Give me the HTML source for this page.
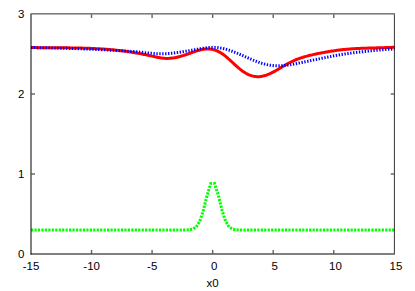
<!DOCTYPE html>
<html><head><meta charset="utf-8"><title>plot</title>
<style>
html,body{margin:0;padding:0;background:#fff;}
body{width:415px;height:291px;overflow:hidden;position:relative;font-family:"Liberation Sans",sans-serif;}
</style></head><body>
<svg width="415" height="291" viewBox="0 0 415 291" style="position:absolute;left:0;top:0">
<rect x="0" y="0" width="415" height="291" fill="#fff"/>
<path d="M31.00,47.54 L32.00,47.55 L33.00,47.57 L34.00,47.59 L35.00,47.60 L36.00,47.62 L37.00,47.63 L38.00,47.64 L39.00,47.65 L40.00,47.66 L41.00,47.67 L42.00,47.68 L43.00,47.69 L44.00,47.70 L45.00,47.71 L46.00,47.71 L47.00,47.72 L48.00,47.73 L49.00,47.73 L50.00,47.74 L51.00,47.75 L52.00,47.75 L53.00,47.76 L54.00,47.76 L55.00,47.77 L56.00,47.77 L57.00,47.78 L58.00,47.78 L59.00,47.79 L60.00,47.80 L61.00,47.80 L62.00,47.81 L63.00,47.82 L64.00,47.82 L65.00,47.83 L66.00,47.84 L67.00,47.85 L68.00,47.86 L69.00,47.87 L70.00,47.88 L71.00,47.90 L72.00,47.91 L73.00,47.93 L74.00,47.94 L75.00,47.96 L76.00,47.97 L77.00,47.99 L78.00,48.01 L79.00,48.03 L80.00,48.06 L81.00,48.08 L82.00,48.11 L83.00,48.13 L84.00,48.16 L85.00,48.19 L86.00,48.22 L87.00,48.25 L88.00,48.29 L89.00,48.32 L90.00,48.36 L91.00,48.40 L92.00,48.44 L93.00,48.49 L94.00,48.53 L95.00,48.58 L96.00,48.63 L97.00,48.68 L98.00,48.74 L99.00,48.80 L100.00,48.86 L101.00,48.92 L102.00,48.98 L103.00,49.05 L104.00,49.12 L105.00,49.19 L106.00,49.26 L107.00,49.34 L108.00,49.42 L109.00,49.50 L110.00,49.58 L111.00,49.67 L112.00,49.76 L113.00,49.86 L114.00,49.95 L115.00,50.05 L116.00,50.16 L117.00,50.26 L118.00,50.37 L119.00,50.49 L120.00,50.60 L121.00,50.72 L122.00,50.85 L123.00,50.97 L124.00,51.10 L125.00,51.24 L126.00,51.37 L127.00,51.51 L128.00,51.66 L129.00,51.80 L130.00,51.95 L131.00,52.11 L132.00,52.26 L133.00,52.42 L134.00,52.59 L135.00,52.76 L136.00,52.93 L137.00,53.10 L138.00,53.28 L139.00,53.46 L140.00,53.65 L141.00,53.83 L142.00,54.03 L143.00,54.22 L144.00,54.42 L145.00,54.62 L146.00,54.83 L147.00,55.04 L148.00,55.25 L149.00,55.47 L150.00,55.68 L151.00,55.91 L152.00,56.13 L153.00,56.36 L154.00,56.58 L155.00,56.80 L156.00,57.01 L157.00,57.21 L158.00,57.41 L159.00,57.59 L160.00,57.76 L161.00,57.91 L162.00,58.05 L163.00,58.17 L164.00,58.26 L165.00,58.34 L166.00,58.38 L167.00,58.41 L168.00,58.40 L169.00,58.37 L170.00,58.31 L171.00,58.22 L172.00,58.11 L173.00,57.98 L174.00,57.83 L175.00,57.65 L176.00,57.45 L177.00,57.24 L178.00,57.01 L179.00,56.76 L180.00,56.50 L181.00,56.22 L182.00,55.93 L183.00,55.62 L184.00,55.31 L185.00,54.99 L186.00,54.65 L187.00,54.31 L188.00,53.96 L189.00,53.61 L190.00,53.25 L191.00,52.89 L192.00,52.53 L193.00,52.17 L194.00,51.82 L195.00,51.47 L196.00,51.13 L197.00,50.81 L198.00,50.50 L199.00,50.21 L200.00,49.95 L201.00,49.71 L202.00,49.49 L203.00,49.31 L204.00,49.16 L205.00,49.04 L206.00,48.96 L207.00,48.92 L208.00,48.93 L209.00,48.97 L210.00,49.06 L211.00,49.19 L212.00,49.37 L213.00,49.58 L214.00,49.85 L215.00,50.16 L216.00,50.51 L217.00,50.91 L218.00,51.36 L219.00,51.85 L220.00,52.40 L221.00,52.99 L222.00,53.63 L223.00,54.32 L224.00,55.06 L225.00,55.83 L226.00,56.64 L227.00,57.49 L228.00,58.36 L229.00,59.25 L230.00,60.16 L231.00,61.08 L232.00,62.00 L233.00,62.94 L234.00,63.87 L235.00,64.79 L236.00,65.70 L237.00,66.60 L238.00,67.48 L239.00,68.33 L240.00,69.15 L241.00,69.94 L242.00,70.70 L243.00,71.41 L244.00,72.09 L245.00,72.71 L246.00,73.30 L247.00,73.84 L248.00,74.34 L249.00,74.79 L250.00,75.19 L251.00,75.55 L252.00,75.86 L253.00,76.12 L254.00,76.33 L255.00,76.49 L256.00,76.61 L257.00,76.67 L258.00,76.69 L259.00,76.66 L260.00,76.58 L261.00,76.45 L262.00,76.29 L263.00,76.08 L264.00,75.83 L265.00,75.54 L266.00,75.22 L267.00,74.86 L268.00,74.47 L269.00,74.06 L270.00,73.61 L271.00,73.15 L272.00,72.66 L273.00,72.15 L274.00,71.62 L275.00,71.08 L276.00,70.52 L277.00,69.95 L278.00,69.37 L279.00,68.79 L280.00,68.19 L281.00,67.60 L282.00,67.01 L283.00,66.42 L284.00,65.83 L285.00,65.25 L286.00,64.67 L287.00,64.11 L288.00,63.56 L289.00,63.02 L290.00,62.50 L291.00,62.00 L292.00,61.51 L293.00,61.05 L294.00,60.60 L295.00,60.17 L296.00,59.75 L297.00,59.36 L298.00,58.97 L299.00,58.60 L300.00,58.25 L301.00,57.90 L302.00,57.57 L303.00,57.26 L304.00,56.95 L305.00,56.66 L306.00,56.37 L307.00,56.10 L308.00,55.83 L309.00,55.58 L310.00,55.33 L311.00,55.09 L312.00,54.86 L313.00,54.63 L314.00,54.41 L315.00,54.20 L316.00,53.99 L317.00,53.78 L318.00,53.58 L319.00,53.39 L320.00,53.19 L321.00,53.00 L322.00,52.81 L323.00,52.62 L324.00,52.43 L325.00,52.25 L326.00,52.07 L327.00,51.90 L328.00,51.72 L329.00,51.55 L330.00,51.39 L331.00,51.22 L332.00,51.06 L333.00,50.91 L334.00,50.76 L335.00,50.61 L336.00,50.47 L337.00,50.33 L338.00,50.20 L339.00,50.07 L340.00,49.95 L341.00,49.83 L342.00,49.72 L343.00,49.61 L344.00,49.51 L345.00,49.41 L346.00,49.32 L347.00,49.23 L348.00,49.14 L349.00,49.06 L350.00,48.99 L351.00,48.91 L352.00,48.84 L353.00,48.78 L354.00,48.71 L355.00,48.65 L356.00,48.60 L357.00,48.54 L358.00,48.49 L359.00,48.45 L360.00,48.40 L361.00,48.36 L362.00,48.31 L363.00,48.27 L364.00,48.24 L365.00,48.20 L366.00,48.17 L367.00,48.13 L368.00,48.10 L369.00,48.07 L370.00,48.04 L371.00,48.01 L372.00,47.99 L373.00,47.96 L374.00,47.93 L375.00,47.90 L376.00,47.88 L377.00,47.85 L378.00,47.82 L379.00,47.80 L380.00,47.77 L381.00,47.74 L382.00,47.71 L383.00,47.68 L384.00,47.65 L385.00,47.62 L386.00,47.58 L387.00,47.55 L388.00,47.51 L389.00,47.47 L390.00,47.43 L391.00,47.39 L392.00,47.34 L393.00,47.30 L394.00,47.25 L394.40,47.23" fill="none" stroke="#ff0000" stroke-width="3" stroke-linejoin="round"/>
<path d="M31.00,230.00 L34.67,230.00 L38.34,230.00 L42.01,230.00 L45.68,230.00 L49.35,230.00 L53.02,230.00 L56.69,230.00 L60.37,230.00 L64.04,230.00 L67.71,230.00 L71.38,230.00 L75.05,230.00 L78.72,230.00 L82.39,230.00 L86.06,230.00 L89.73,230.00 L93.40,230.00 L97.07,230.00 L100.74,230.00 L104.41,230.00 L108.08,230.00 L111.76,230.00 L115.43,230.00 L119.10,230.00 L122.77,230.00 L126.44,230.00 L130.11,230.00 L133.78,230.00 L137.45,230.00 L141.12,230.00 L144.79,230.00 L148.46,230.00 L152.13,230.00 L155.80,230.00 L159.47,230.00 L163.15,230.00 L166.82,230.00 L170.49,230.00 L174.16,230.00 L177.83,230.00 L181.50,230.00 L185.17,229.98 L188.84,229.86 L192.51,229.26 L196.18,227.05 L199.85,221.12 L203.52,209.71 L207.19,194.79 L210.86,183.62 L214.54,183.62 L218.21,194.79 L221.88,209.71 L225.55,221.12 L229.22,227.05 L232.89,229.26 L236.56,229.86 L240.23,229.98 L243.90,230.00 L247.57,230.00 L251.24,230.00 L254.91,230.00 L258.58,230.00 L262.25,230.00 L265.93,230.00 L269.60,230.00 L273.27,230.00 L276.94,230.00 L280.61,230.00 L284.28,230.00 L287.95,230.00 L291.62,230.00 L295.29,230.00 L298.96,230.00 L302.63,230.00 L306.30,230.00 L309.97,230.00 L313.64,230.00 L317.32,230.00 L320.99,230.00 L324.66,230.00 L328.33,230.00 L332.00,230.00 L335.67,230.00 L339.34,230.00 L343.01,230.00 L346.68,230.00 L350.35,230.00 L354.02,230.00 L357.69,230.00 L361.36,230.00 L365.03,230.00 L368.71,230.00 L372.38,230.00 L376.05,230.00 L379.72,230.00 L383.39,230.00 L387.06,230.00 L390.73,230.00 L394.40,230.00" fill="none" stroke="#00ff00" stroke-width="3" stroke-dasharray="2.2 1.257" stroke-dashoffset="0"/>
<path d="M31.00,47.56 L32.00,47.57 L33.00,47.58 L34.00,47.59 L35.00,47.61 L36.00,47.62 L37.00,47.63 L38.00,47.65 L39.00,47.66 L40.00,47.68 L41.00,47.69 L42.00,47.71 L43.00,47.73 L44.00,47.74 L45.00,47.76 L46.00,47.78 L47.00,47.80 L48.00,47.82 L49.00,47.84 L50.00,47.86 L51.00,47.88 L52.00,47.91 L53.00,47.93 L54.00,47.95 L55.00,47.98 L56.00,48.00 L57.00,48.03 L58.00,48.05 L59.00,48.08 L60.00,48.10 L61.00,48.13 L62.00,48.16 L63.00,48.19 L64.00,48.22 L65.00,48.25 L66.00,48.28 L67.00,48.31 L68.00,48.34 L69.00,48.37 L70.00,48.40 L71.00,48.43 L72.00,48.47 L73.00,48.50 L74.00,48.53 L75.00,48.57 L76.00,48.61 L77.00,48.64 L78.00,48.68 L79.00,48.72 L80.00,48.75 L81.00,48.79 L82.00,48.83 L83.00,48.87 L84.00,48.91 L85.00,48.95 L86.00,48.99 L87.00,49.03 L88.00,49.07 L89.00,49.12 L90.00,49.16 L91.00,49.20 L92.00,49.25 L93.00,49.29 L94.00,49.34 L95.00,49.38 L96.00,49.43 L97.00,49.47 L98.00,49.52 L99.00,49.57 L100.00,49.62 L101.00,49.67 L102.00,49.72 L103.00,49.77 L104.00,49.82 L105.00,49.87 L106.00,49.92 L107.00,49.97 L108.00,50.02 L109.00,50.07 L110.00,50.13 L111.00,50.18 L112.00,50.24 L113.00,50.29 L114.00,50.35 L115.00,50.40 L116.00,50.46 L117.00,50.52 L118.00,50.57 L119.00,50.63 L120.00,50.69 L121.00,50.75 L122.00,50.81 L123.00,50.87 L124.00,50.93 L125.00,50.99 L126.00,51.06 L127.00,51.12 L128.00,51.19 L129.00,51.26 L130.00,51.32 L131.00,51.40 L132.00,51.47 L133.00,51.55 L134.00,51.62 L135.00,51.70 L136.00,51.79 L137.00,51.87 L138.00,51.96 L139.00,52.05 L140.00,52.15 L141.00,52.25 L142.00,52.35 L143.00,52.45 L144.00,52.55 L145.00,52.66 L146.00,52.76 L147.00,52.86 L148.00,52.96 L149.00,53.06 L150.00,53.16 L151.00,53.25 L152.00,53.33 L153.00,53.41 L154.00,53.48 L155.00,53.55 L156.00,53.61 L157.00,53.66 L158.00,53.70 L159.00,53.73 L160.00,53.75 L161.00,53.76 L162.00,53.75 L163.00,53.74 L164.00,53.72 L165.00,53.68 L166.00,53.64 L167.00,53.58 L168.00,53.52 L169.00,53.45 L170.00,53.37 L171.00,53.28 L172.00,53.19 L173.00,53.08 L174.00,52.97 L175.00,52.86 L176.00,52.73 L177.00,52.60 L178.00,52.47 L179.00,52.33 L180.00,52.18 L181.00,52.04 L182.00,51.88 L183.00,51.72 L184.00,51.56 L185.00,51.40 L186.00,51.23 L187.00,51.06 L188.00,50.89 L189.00,50.72 L190.00,50.54 L191.00,50.36 L192.00,50.19 L193.00,50.01 L194.00,49.83 L195.00,49.65 L196.00,49.48 L197.00,49.30 L198.00,49.13 L199.00,48.95 L200.00,48.78 L201.00,48.62 L202.00,48.45 L203.00,48.29 L204.00,48.14 L205.00,48.00 L206.00,47.87 L207.00,47.75 L208.00,47.64 L209.00,47.55 L210.00,47.47 L211.00,47.42 L212.00,47.38 L213.00,47.37 L214.00,47.38 L215.00,47.41 L216.00,47.47 L217.00,47.55 L218.00,47.66 L219.00,47.79 L220.00,47.95 L221.00,48.12 L222.00,48.32 L223.00,48.53 L224.00,48.76 L225.00,49.02 L226.00,49.28 L227.00,49.57 L228.00,49.87 L229.00,50.19 L230.00,50.52 L231.00,50.87 L232.00,51.22 L233.00,51.59 L234.00,51.97 L235.00,52.36 L236.00,52.76 L237.00,53.17 L238.00,53.58 L239.00,54.00 L240.00,54.43 L241.00,54.86 L242.00,55.29 L243.00,55.73 L244.00,56.17 L245.00,56.60 L246.00,57.04 L247.00,57.48 L248.00,57.92 L249.00,58.35 L250.00,58.78 L251.00,59.20 L252.00,59.62 L253.00,60.04 L254.00,60.44 L255.00,60.84 L256.00,61.23 L257.00,61.61 L258.00,61.98 L259.00,62.33 L260.00,62.67 L261.00,63.00 L262.00,63.32 L263.00,63.62 L264.00,63.90 L265.00,64.17 L266.00,64.41 L267.00,64.64 L268.00,64.85 L269.00,65.04 L270.00,65.21 L271.00,65.35 L272.00,65.47 L273.00,65.57 L274.00,65.65 L275.00,65.71 L276.00,65.75 L277.00,65.78 L278.00,65.78 L279.00,65.77 L280.00,65.74 L281.00,65.70 L282.00,65.64 L283.00,65.57 L284.00,65.48 L285.00,65.38 L286.00,65.27 L287.00,65.15 L288.00,65.02 L289.00,64.87 L290.00,64.72 L291.00,64.56 L292.00,64.39 L293.00,64.22 L294.00,64.04 L295.00,63.85 L296.00,63.66 L297.00,63.46 L298.00,63.26 L299.00,63.06 L300.00,62.86 L301.00,62.65 L302.00,62.44 L303.00,62.24 L304.00,62.03 L305.00,61.82 L306.00,61.61 L307.00,61.39 L308.00,61.18 L309.00,60.97 L310.00,60.76 L311.00,60.54 L312.00,60.33 L313.00,60.12 L314.00,59.90 L315.00,59.69 L316.00,59.48 L317.00,59.27 L318.00,59.06 L319.00,58.85 L320.00,58.64 L321.00,58.43 L322.00,58.22 L323.00,58.01 L324.00,57.81 L325.00,57.60 L326.00,57.40 L327.00,57.20 L328.00,57.00 L329.00,56.80 L330.00,56.61 L331.00,56.41 L332.00,56.22 L333.00,56.03 L334.00,55.85 L335.00,55.66 L336.00,55.48 L337.00,55.30 L338.00,55.13 L339.00,54.96 L340.00,54.79 L341.00,54.62 L342.00,54.46 L343.00,54.30 L344.00,54.14 L345.00,53.98 L346.00,53.83 L347.00,53.69 L348.00,53.54 L349.00,53.40 L350.00,53.26 L351.00,53.12 L352.00,52.98 L353.00,52.85 L354.00,52.72 L355.00,52.59 L356.00,52.47 L357.00,52.35 L358.00,52.23 L359.00,52.11 L360.00,51.99 L361.00,51.88 L362.00,51.76 L363.00,51.65 L364.00,51.54 L365.00,51.44 L366.00,51.33 L367.00,51.23 L368.00,51.13 L369.00,51.03 L370.00,50.93 L371.00,50.83 L372.00,50.74 L373.00,50.64 L374.00,50.55 L375.00,50.46 L376.00,50.37 L377.00,50.28 L378.00,50.19 L379.00,50.11 L380.00,50.02 L381.00,49.94 L382.00,49.85 L383.00,49.77 L384.00,49.69 L385.00,49.60 L386.00,49.52 L387.00,49.44 L388.00,49.36 L389.00,49.28 L390.00,49.20 L391.00,49.13 L392.00,49.05 L393.00,48.97 L394.00,48.89 L394.40,48.86" fill="none" stroke="#0000ff" stroke-width="3" stroke-dasharray="1.35 1.57" stroke-dashoffset="0"/>
<g stroke="#000" stroke-width="1" fill="none">
<path d="M31.00,13.38 V254.50"/>
<path d="M30.50,254.00 H394.90"/>
<path d="M31.50,13.88 H394.90" stroke-opacity="0.82"/>
<path d="M394.40,14.38 V253.50" stroke-opacity="0.8"/>
<path stroke-opacity="0.88" d="M31.50,174.00 h3.50 M393.90,174.00 h-3.20"/>
<path stroke-opacity="0.88" d="M31.50,94.00 h3.50 M393.90,94.00 h-3.20"/>
</g>
<g stroke="#000" stroke-width="1.4" stroke-opacity="0.62" fill="none">
<path d="M91.52,253.50 v-3.50 M91.52,14.38 v3.50"/>
<path d="M152.08,253.50 v-3.50 M152.08,14.38 v3.50"/>
<path d="M212.65,253.50 v-3.50 M212.65,14.38 v3.50"/>
<path d="M273.22,253.50 v-3.50 M273.22,14.38 v3.50"/>
<path d="M333.78,253.50 v-3.50 M333.78,14.38 v3.50"/>
</g>
<g fill="#000" font-family="Liberation Sans, sans-serif" font-size="11.5">
<text x="17.90" y="257.90">0</text>
<text x="17.90" y="177.90">1</text>
<text x="17.90" y="97.90">2</text>
<text x="17.90" y="17.90">3</text>
<text x="22.79" y="269.85">-15</text>
<text x="83.36" y="269.85">-10</text>
<text x="147.12" y="269.85">-5</text>
<text x="211.05" y="269.85">0</text>
<text x="271.62" y="269.85">5</text>
<text x="328.99" y="269.85">10</text>
<text x="389.55" y="269.85">15</text>
<text x="206.58" y="287.15">x0</text>
</g>
</svg>
</body></html>
